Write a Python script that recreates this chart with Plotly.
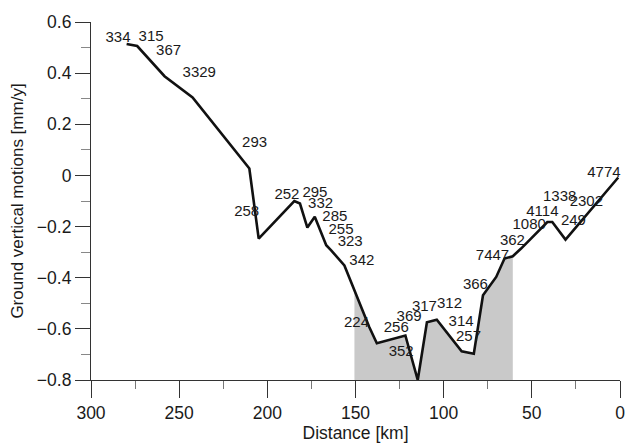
import plotly.graph_objects as go

# Profile line (distance km, vertical motion mm/y)
dist = [279.8, 273.8, 258.3, 242.4, 210.2, 204.9, 184.7, 181.5, 177.3, 173.1,
        166.6, 163.8, 156.3, 150.6, 142.2, 137.9, 121.7, 114.7, 109.5, 103.9,
        89.8, 82.9, 77.7, 70.2, 65.5, 60.8, 56.1, 41.2, 38.4, 30.9, 1.0]
vel = [0.514, 0.506, 0.388, 0.305, 0.027, -0.247, -0.100, -0.110, -0.204, -0.162,
       -0.273, -0.293, -0.352, -0.449, -0.593, -0.656, -0.626, -0.800, -0.574, -0.564,
       -0.688, -0.697, -0.469, -0.397, -0.325, -0.316, -0.286, -0.182, -0.182, -0.251, -0.008]

# Shaded segment (indices into the profile)
fill_start, fill_end = 13, 25
baseline = -0.8

# Station labels
label_text = ["334", "315", "367", "3329", "293", "258", "252", "295", "332", "285",
              "255", "323", "342", "224", "256", "369", "352", "317", "312", "314",
              "257", "366", "7447", "362", "1080", "4114", "1338", "2302", "249", "4774"]
label_x = [284.7, 265.9, 256.0, 238.6, 207.2, 211.7, 188.9, 173.0, 169.8, 161.7,
           158.2, 153.0, 146.4, 149.4, 126.9, 119.6, 124.1, 110.9, 96.7, 90.1,
           85.9, 82.0, 72.3, 61.0, 51.5, 44.0, 34.2, 19.1, 26.4, 9.1]
label_y = [0.537, 0.541, 0.484, 0.401, 0.125, -0.145, -0.078, -0.069, -0.113, -0.162,
           -0.215, -0.260, -0.335, -0.580, -0.597, -0.554, -0.693, -0.515, -0.505, -0.574,
           -0.632, -0.430, -0.316, -0.256, -0.195, -0.143, -0.087, -0.104, -0.178, 0.010]

x_ticks = [300, 250, 200, 150, 100, 50, 0]
y_ticks = [0.6, 0.4, 0.2, 0, -0.2, -0.4, -0.6, -0.8]

FONT = "Liberation Sans, Arial, sans-serif"

seg_x = dist[fill_start:fill_end + 1]
seg_y = vel[fill_start:fill_end + 1]

fig = go.Figure()
fig.add_trace(go.Scatter(x=seg_x, y=[baseline] * len(seg_x), mode="lines",
                         line=dict(width=0), hoverinfo="skip", showlegend=False))
fig.add_trace(go.Scatter(x=seg_x, y=seg_y, mode="lines", line=dict(width=0),
                         fill="tonexty", fillcolor="#c9c9c9", hoverinfo="skip",
                         showlegend=False))
fig.add_trace(go.Scatter(x=dist, y=vel, mode="lines",
                         line=dict(color="#111111", width=2.6), showlegend=False,
                         cliponaxis=False))
fig.add_trace(go.Scatter(x=label_x, y=label_y, text=label_text, mode="text",
                         textfont=dict(family=FONT, size=15, color="#1a1a1a"),
                         showlegend=False, cliponaxis=False))

fig.add_annotation(x=284.7, y=0.612, text="NW", showarrow=False,
                   font=dict(family=FONT, size=25, color="#111111"))
fig.add_annotation(x=20.8, y=0.608, text="SE", showarrow=False,
                   font=dict(family=FONT, size=25, color="#111111"))

fig.update_layout(
    width=634, height=448,
    margin=dict(l=91, r=9, t=22, b=68),
    paper_bgcolor="white", plot_bgcolor="white",
    font=dict(family=FONT, color="#1a1a1a"),
    xaxis=dict(range=[300, 0], tickvals=x_ticks, ticktext=[str(v) for v in x_ticks],
               showgrid=False, zeroline=False, showline=True, linecolor="#333333",
               linewidth=1.2, ticks="outside", ticklen=17, tickcolor="#333333",
               tickwidth=1.2, tickfont=dict(size=17.5),
               minor=dict(dtick=25, tick0=0, ticks="outside", ticklen=8,
                          tickcolor="#777777", tickwidth=1.2),
               title=dict(text="Distance [km]", font=dict(size=17.5), standoff=4)),
    yaxis=dict(range=[-0.8, 0.6], tickvals=y_ticks,
               ticktext=[("\u2212" if v < 0 else "") + ("0" if v == 0 else f"{abs(v):.1f}") for v in y_ticks],
               showgrid=False, zeroline=False, showline=True, linecolor="#333333",
               linewidth=1.2, ticks="outside", ticklen=15, tickcolor="#333333",
               tickwidth=1.2, tickfont=dict(size=17.5),
               minor=dict(dtick=0.1, tick0=0, ticks="outside", ticklen=9,
                          tickcolor="#888888", tickwidth=1.2),
               title=dict(text="Ground vertical motions [mm/y]", font=dict(size=17),
                          standoff=8)),
)

fig.write_html("out.html")
